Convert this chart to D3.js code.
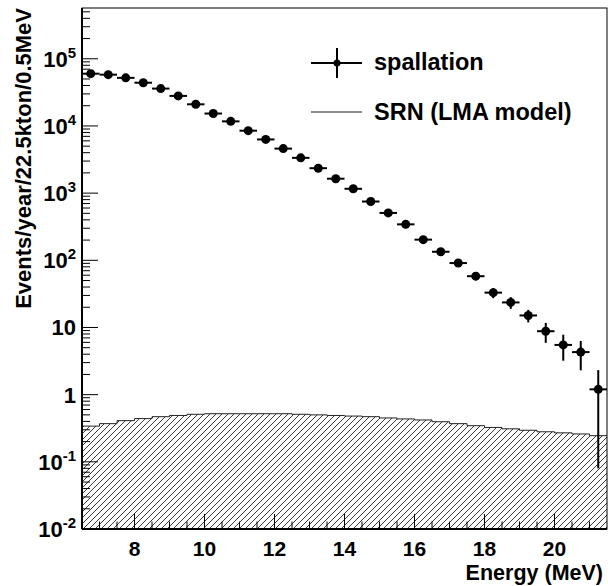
<!DOCTYPE html>
<html>
<head>
<meta charset="utf-8">
<script src="https://cdn.jsdelivr.net/npm/d3@7"></script>
<style>
  body { margin: 0; background: #fff; }
  svg { display: block; }
  text { font-family: "Liberation Sans", Arial, Helvetica, sans-serif; font-weight: bold; fill: #000; }
</style>
</head>
<body>
<div id="chart"></div>
<script>
// Spallation background vs SRN signal, 0.5 MeV bins from 6.5 to 21.5 MeV
const binCenters = [6.75, 7.25, 7.75, 8.25, 8.75, 9.25, 9.75, 10.25, 10.75, 11.25,
                    11.75, 12.25, 12.75, 13.25, 13.75, 14.25, 14.75, 15.25, 15.75, 16.25,
                    16.75, 17.25, 17.75, 18.25, 18.75, 19.25, 19.75, 20.25, 20.75, 21.25];
const spallation = [6.0e4, 5.8e4, 5.2e4, 4.4e4, 3.6e4, 2.8e4, 2.1e4, 1.53e4, 1.17e4, 8.5e3,
                    6.3e3, 4.6e3, 3.35e3, 2.35e3, 1.64e3, 1.16e3, 750, 507, 343, 203,
                    134, 91, 58, 33, 23.6, 15.1, 8.8, 5.5, 4.3, 1.2];
const spallationErr = [250, 240, 230, 210, 190, 170, 145, 125, 110, 92,
                       80, 68, 58, 48, 40, 34, 27, 22, 18.5, 14,
                       11.5, 9.5, 7.6, 5.7, 4.7, 3.2, 2.9, 2.3, 2.0, 1.12];
const srn = [0.34, 0.37, 0.41, 0.44, 0.47, 0.49, 0.51, 0.52, 0.52, 0.52,
             0.52, 0.52, 0.51, 0.50, 0.49, 0.48, 0.47, 0.45, 0.435, 0.42,
             0.395, 0.37, 0.345, 0.325, 0.31, 0.295, 0.28, 0.27, 0.26, 0.245];
const binHalfWidth = 0.25;
const xTicks = [8, 10, 12, 14, 16, 18, 20];
const yDecades = [-2, -1, 0, 1, 2, 3, 4, 5];
const legendLabels = ['spallation', 'SRN (LMA model)'];

const W = 608, H = 586;
const margin = {top: 8, right: 1, bottom: 57, left: 82};
const width = W - margin.left - margin.right;
const height = H - margin.top - margin.bottom;

const svg = d3.select('#chart').append('svg')
    .attr('width', W)
    .attr('height', H);

// hatch pattern for the SRN histogram
const defs = svg.append('defs');
defs.append('pattern')
    .attr('id', 'hatch')
    .attr('patternUnits', 'userSpaceOnUse')
    .attr('width', 6)
    .attr('height', 6)
  .append('path')
    .attr('d', 'M-1,1 l2,-2 M0,6 l6,-6 M5,7 l2,-2')
    .attr('stroke', '#222')
    .attr('stroke-width', 0.9);

const g = svg.append('g')
    .attr('transform', `translate(${margin.left},${margin.top})`);

const x = d3.scaleLinear().domain([6.5, 21.5]).range([0, width]);
const y = d3.scaleLog().domain([0.01, 5.7e5]).range([height, 0]);

// SRN step histogram
const stepPts = [];
srn.forEach((v, i) => {
    stepPts.push([binCenters[i] - binHalfWidth, v]);
    stepPts.push([binCenters[i] + binHalfWidth, v]);
});
const area = d3.area()
    .x(d => x(d[0]))
    .y0(height)
    .y1(d => y(d[1]));
const line = d3.line()
    .x(d => x(d[0]))
    .y(d => y(d[1]));

g.append('path')
    .datum(stepPts)
    .attr('d', area)
    .attr('fill', 'url(#hatch)');
g.append('path')
    .datum(stepPts)
    .attr('d', line)
    .attr('fill', 'none')
    .attr('stroke', '#222')
    .attr('stroke-width', 1);

// spallation points with error bars
const pts = binCenters.map((e, i) => ({e: e, v: spallation[i], err: spallationErr[i]}));
const pg = g.append('g');
pg.selectAll('.xerr')
    .data(pts)
    .enter().append('line')
    .attr('x1', d => x(d.e - binHalfWidth))
    .attr('x2', d => x(d.e + binHalfWidth))
    .attr('y1', d => y(d.v))
    .attr('y2', d => y(d.v))
    .attr('stroke', '#000')
    .attr('stroke-width', 2);
pg.selectAll('.yerr')
    .data(pts)
    .enter().append('line')
    .attr('x1', d => x(d.e))
    .attr('x2', d => x(d.e))
    .attr('y1', d => y(d.v + d.err))
    .attr('y2', d => y(Math.max(d.v - d.err, 0.011)))
    .attr('stroke', '#000')
    .attr('stroke-width', 2);
pg.selectAll('circle')
    .data(pts)
    .enter().append('circle')
    .attr('cx', d => x(d.e))
    .attr('cy', d => y(d.v))
    .attr('r', 4.5)
    .attr('fill', '#000');

// ticks (ROOT style, inside the frame)
const axes = g.append('g').attr('stroke', '#000').attr('stroke-width', 1);
const xMinor = d3.range(13, 44).map(k => k / 2).filter(v => v > 6.5 && v < 21.5);
xMinor.forEach(v => {
    const major = xTicks.includes(v);
    axes.append('line')
        .attr('x1', x(v)).attr('x2', x(v))
        .attr('y1', height).attr('y2', height - (major ? 15 : 7.5));
});
yDecades.forEach(p => {
    for (let m = 1; m <= 9; m++) {
        const v = m * Math.pow(10, p);
        if (v < 0.01 || v > 5.7e5) continue;
        axes.append('line')
            .attr('x1', 0).attr('x2', m === 1 ? 16 : 8)
            .attr('y1', y(v)).attr('y2', y(v));
    }
});

// frame
g.append('rect')
    .attr('width', width).attr('height', height)
    .attr('fill', 'none').attr('stroke', '#000').attr('stroke-width', 1);
g.append('line').attr('x1', 0).attr('x2', width).attr('y1', height).attr('y2', height)
    .attr('stroke', '#000').attr('stroke-width', 2);
g.append('line').attr('x1', 0).attr('x2', 0).attr('y1', 0).attr('y2', height)
    .attr('stroke', '#000').attr('stroke-width', 2);

// tick labels
xTicks.forEach(v => {
    g.append('text')
        .attr('x', x(v)).attr('y', height + 27)
        .attr('text-anchor', 'middle')
        .style('font-size', '21px')
        .text(v);
});
yDecades.forEach(p => {
    const t = g.append('text')
        .attr('x', -6).attr('y', y(Math.pow(10, p)) + 8)
        .attr('text-anchor', 'end')
        .style('font-size', '22px');
    if (p === 0) t.text('1');
    else if (p === 1) t.text('10');
    else {
        t.append('tspan').text('10');
        t.append('tspan').attr('dy', -9).style('font-size', '15px').text(p);
    }
});

// axis titles
g.append('text')
    .attr('x', width - 4).attr('y', height + 51)
    .attr('text-anchor', 'end')
    .style('font-size', '21.5px')
    .text('Energy (MeV)');
svg.append('text')
    .attr('transform', 'translate(31,8) rotate(-90)')
    .attr('text-anchor', 'end')
    .style('font-size', '22px')
    .text('Events/year/22.5kton/0.5MeV');

// legend
const lg = svg.append('g');
lg.append('line').attr('x1', 311).attr('x2', 362).attr('y1', 63).attr('y2', 63)
    .attr('stroke', '#000').attr('stroke-width', 2);
lg.append('line').attr('x1', 337).attr('x2', 337).attr('y1', 48).attr('y2', 78)
    .attr('stroke', '#000').attr('stroke-width', 2);
lg.append('circle').attr('cx', 337).attr('cy', 63).attr('r', 3.5).attr('fill', '#000');
lg.append('line').attr('x1', 311).attr('x2', 362).attr('y1', 112).attr('y2', 112)
    .attr('stroke', '#666').attr('stroke-width', 1.5);
lg.append('text').attr('x', 374).attr('y', 70).style('font-size', '23.5px').text(legendLabels[0]);
lg.append('text').attr('x', 374).attr('y', 120).style('font-size', '23.5px').text(legendLabels[1]);
</script>
</body>
</html>
